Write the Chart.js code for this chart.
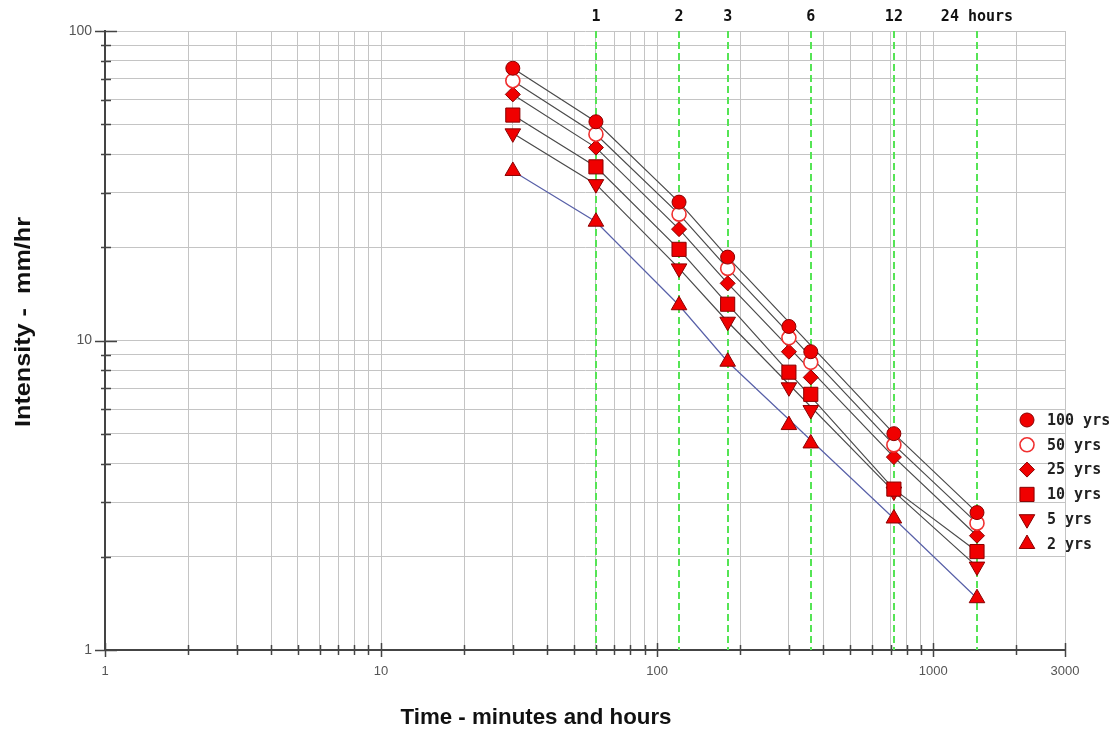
<!DOCTYPE html>
<html>
<head>
<meta charset="utf-8">
<title>IDF curves</title>
<script src="https://cdn.jsdelivr.net/npm/chart.js@4.4.1/dist/chart.umd.min.js"></script>
<style>
  html, body { margin: 0; padding: 0; background: #fff; }
  #wrap { width: 1120px; height: 732px; }
</style>
</head>
<body>
<div id="wrap"><canvas id="idf" width="1120" height="732"></canvas></div>
<script>
// durations in minutes
const durations = [30, 60, 120, 180, 300, 360, 720, 1440];
// points used for the curves (the 5 h and 6 h values sit a little off the curves)
const curveIdx = [0, 1, 2, 3, 6, 7];

// intensity mm/hr for each return period
const yr100 = [75.8, 50.9, 28.0, 18.6, 11.1, 9.2, 5.0, 2.78];
const yr50 = [69.1, 46.4, 25.6, 17.1, 10.2, 8.5, 4.6, 2.57];
const yr25 = [62.4, 42.0, 22.9, 15.3, 9.2, 7.6, 4.2, 2.34];
const yr10 = [53.5, 36.4, 19.7, 13.1, 7.9, 6.7, 3.31, 2.08];
const yr5 = [46.7, 32.0, 17.1, 11.5, 7.06, 5.96, 3.25, 1.86];
const yr2 = [35.3, 24.2, 13.0, 8.54, 5.33, 4.65, 2.66, 1.47];

const seriesNames = ['100 yrs', '50 yrs', '25 yrs', '10 yrs', '5 yrs', '2 yrs'];
const seriesValues = [yr100, yr50, yr25, yr10, yr5, yr2];

// hour marks along the top
const hourMarks = [60, 120, 180, 360, 720, 1440];
const hourLabels = ['1', '2', '3', '6', '12', '24 hours'];

// axis ticks
const xTicks = [1, 2, 3, 4, 5, 6, 7, 8, 9, 10, 20, 30, 40, 50, 60, 70, 80, 90,
                100, 200, 300, 400, 500, 600, 700, 800, 900, 1000, 2000, 3000];
const xLabelled = [1, 10, 100, 1000, 3000];
const yTicks = [1, 2, 3, 4, 5, 6, 7, 8, 9, 10, 20, 30, 40, 50, 60, 70, 80, 90, 100];
const yLabelled = [1, 10, 100];

// marker looks
const markers = [
    { style: 'circle', radius: 7, rotation: 0, fill: '#f00000', edge: '#8a0000' },
    { style: 'circle', radius: 7, rotation: 0, fill: '#ffffff', edge: '#f03030' },
    { style: 'rectRot', radius: 7.5, rotation: 0, fill: '#f00000', edge: '#8a0000' },
    { style: 'rect', radius: 10, rotation: 0, fill: '#f00000', edge: '#8a0000' },
    { style: 'triangle', radius: 9, rotation: 180, fill: '#f00000', edge: '#8a0000' },
    { style: 'triangle', radius: 9, rotation: 0, fill: '#f00000', edge: '#8a0000' }
];
const curveColors = ['#4a4a4a', '#4a4a4a', '#4a4a4a', '#4a4a4a', '#4a4a4a', '#5860a8'];

const datasets = [];
seriesValues.forEach((vals, i) => {
    const m = markers[i];
    datasets.push({
        label: seriesNames[i],
        data: durations.map((d, j) => ({ x: d, y: vals[j] })),
        showLine: false,
        pointStyle: m.style,
        pointRadius: m.radius,
        pointRotation: m.rotation,
        pointBackgroundColor: m.fill,
        pointBorderColor: m.edge,
        pointBorderWidth: i === 1 ? 1.6 : 1,
        order: 1
    });
    datasets.push({
        label: seriesNames[i] + ' curve',
        data: curveIdx.map(j => ({ x: durations[j], y: vals[j] })),
        showLine: true,
        borderColor: curveColors[i],
        borderWidth: 1.2,
        pointRadius: 0,
        order: 2
    });
});

// draw text squeezed/stretched to a given width
function fitText(ctx, text, width) {
    const w = ctx.measureText(text).width;
    ctx.scale(width / w, 1);
    ctx.fillText(text, 0, 0);
}

const idfDecor = {
    id: 'idfDecor',
    beforeDatasetsDraw(chart) {
        const { ctx, chartArea: a, scales: { x } } = chart;
        ctx.save();
        ctx.strokeStyle = '#55e455';
        ctx.lineWidth = 2;
        ctx.setLineDash([7, 4]);
        hourMarks.forEach(h => {
            const px = Math.round(x.getPixelForValue(h));
            ctx.beginPath();
            ctx.moveTo(px, a.top);
            ctx.lineTo(px, a.bottom);
            ctx.stroke();
        });
        ctx.restore();
    },
    afterDraw(chart) {
        const { ctx, chartArea: a, scales: { x, y } } = chart;
        ctx.save();

        // tick marks crossing the axes
        ctx.strokeStyle = '#444';
        ctx.lineWidth = 1.5;
        ctx.beginPath();
        y.ticks.forEach(t => {
            const py = Math.round(y.getPixelForValue(t.value)) + 0.5;
            const major = yLabelled.includes(t.value);
            ctx.moveTo(a.left - (major ? 10 : 4), py);
            ctx.lineTo(a.left + (major ? 12 : 6), py);
        });
        x.ticks.forEach(t => {
            const px = Math.round(x.getPixelForValue(t.value)) + 0.5;
            const major = xLabelled.includes(t.value);
            ctx.moveTo(px, a.bottom - (major ? 7 : 5));
            ctx.lineTo(px, a.bottom + (major ? 7 : 5));
        });
        ctx.stroke();

        // hour labels above the green lines
        ctx.fillStyle = '#111';
        ctx.font = 'bold 15px "DejaVu Sans Mono"';
        ctx.textAlign = 'center';
        ctx.textBaseline = 'middle';
        hourMarks.forEach((h, i) => {
            ctx.fillText(hourLabels[i], x.getPixelForValue(h), 17);
        });

        // axis titles
        ctx.fillStyle = '#111';
        ctx.font = 'bold 22px "Liberation Sans"';
        ctx.save();
        ctx.translate(536, 718);
        fitText(ctx, 'Time - minutes and hours', 271);
        ctx.restore();
        ctx.save();
        ctx.translate(24, 322);
        ctx.rotate(-Math.PI / 2);
        fitText(ctx, 'Intensity -  mm/hr', 210);
        ctx.restore();

        // legend
        ctx.font = 'bold 15px "DejaVu Sans Mono"';
        ctx.textAlign = 'left';
        seriesNames.forEach((name, i) => {
            const m = markers[i];
            const cy = 420 + i * 24.8;
            ctx.fillStyle = m.fill;
            ctx.strokeStyle = m.edge;
            ctx.lineWidth = i === 1 ? 1.6 : 1;
            Chart.helpers.drawPoint(ctx, {
                pointStyle: m.style, radius: m.radius, rotation: m.rotation,
                borderWidth: i === 1 ? 1.6 : 1
            }, 1027, cy);
            ctx.fillStyle = '#222';
            ctx.fillText(name, 1047, cy + 1);
        });
        ctx.restore();
    }
};

new Chart(document.getElementById('idf'), {
    type: 'scatter',
    data: { datasets: datasets },
    options: {
        responsive: false,
        animation: false,
        layout: { padding: { top: 31, right: 55, left: 0, bottom: 0 } },
        plugins: {
            legend: { display: false },
            tooltip: { enabled: false }
        },
        scales: {
            x: {
                type: 'logarithmic',
                min: 1,
                max: 3000,
                afterBuildTicks: s => { s.ticks = xTicks.map(v => ({ value: v })); },
                afterFit: s => { s.height = 82; },
                ticks: {
                    autoSkip: false,
                    maxRotation: 0,
                    padding: 14,
                    color: '#555',
                    font: { family: 'Liberation Sans', size: 13 },
                    callback: v => xLabelled.includes(v) ? String(v) : ''
                },
                grid: { color: '#c4c4c4', drawTicks: false },
                border: { color: '#444', width: 2 }
            },
            y: {
                type: 'logarithmic',
                min: 1,
                max: 100,
                afterBuildTicks: s => { s.ticks = yTicks.map(v => ({ value: v })); },
                afterFit: s => { s.width = 105; },
                ticks: {
                    autoSkip: false,
                    padding: 13,
                    color: '#555',
                    font: { family: 'Liberation Sans', size: 14 },
                    callback: v => yLabelled.includes(v) ? String(v) : ''
                },
                grid: { color: '#c4c4c4', drawTicks: false },
                border: { color: '#444', width: 2 }
            }
        }
    },
    plugins: [idfDecor]
});
</script>
</body>
</html>
